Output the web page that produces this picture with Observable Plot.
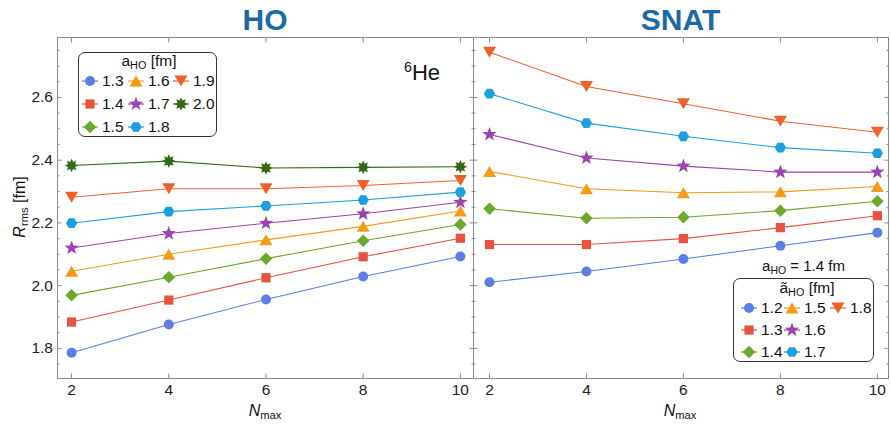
<!DOCTYPE html>
<html><head><meta charset="utf-8">
<script src="https://cdn.jsdelivr.net/npm/d3@7"></script>
<script src="https://cdn.jsdelivr.net/npm/@observablehq/plot@0.6"></script>
<style>
body{margin:0;background:#fff;font-family:"Liberation Sans",Arial,sans-serif;}
#wrap{position:relative;width:891px;height:424px;overflow:hidden;background:#fff;}
.pane{position:absolute;top:0;}
.t{position:absolute;white-space:nowrap;color:#111;line-height:1;}
.title{font-weight:bold;font-size:30px;color:#1b6aa5;text-align:center;}
sub{font-size:70%;vertical-align:-0.25em;line-height:0;}
sup{font-size:65%;vertical-align:0.55em;line-height:0;}
.leg{position:absolute;border:1px solid #333;border-radius:7px;background:#fff;box-sizing:border-box;font-size:15.5px;color:#111;}
.leg .lt{text-align:center;}
.leg .g{display:grid;grid-auto-flow:column;}
.le{display:flex;align-items:center;}
.le svg{display:block;overflow:visible;}
.le span{margin-left:4px;}
</style></head><body><div id="wrap"></div>
<script>
// ---------------- data ----------------
const nmax = [2, 4, 6, 8, 10];
const yMajor = [1.8, 2.0, 2.2, 2.4, 2.6];
const yMinor = [1.75, 1.85, 1.9, 1.95, 2.05, 2.1, 2.15, 2.25, 2.3, 2.35, 2.45, 2.5, 2.55, 2.65, 2.7, 2.75];

const hoLabels = ["1.3", "1.4", "1.5", "1.6", "1.7", "1.8", "1.9", "2.0"];
const ho_1_3 = [1.786, 1.876, 1.956, 2.029, 2.093];
const ho_1_4 = [1.884, 1.954, 2.025, 2.092, 2.151];
const ho_1_5 = [1.969, 2.027, 2.086, 2.143, 2.195];
const ho_1_6 = [2.046, 2.100, 2.146, 2.189, 2.238];
const ho_1_7 = [2.120, 2.166, 2.199, 2.229, 2.266];
const ho_1_8 = [2.199, 2.236, 2.254, 2.273, 2.298];
const ho_1_9 = [2.282, 2.309, 2.309, 2.319, 2.335];
const ho_2_0 = [2.383, 2.397, 2.375, 2.377, 2.379];

const snatLabels = ["1.2", "1.3", "1.4", "1.5", "1.6", "1.7", "1.8"];
const snat_1_2 = [2.011, 2.045, 2.085, 2.127, 2.169];
const snat_1_3 = [2.131, 2.131, 2.150, 2.185, 2.223];
const snat_1_4 = [2.245, 2.215, 2.218, 2.239, 2.269];
const snat_1_5 = [2.364, 2.309, 2.296, 2.299, 2.316];
const snat_1_6 = [2.482, 2.407, 2.381, 2.362, 2.362];
const snat_1_7 = [2.612, 2.518, 2.476, 2.440, 2.422];
const snat_1_8 = [2.744, 2.635, 2.580, 2.524, 2.489];

const hoSeries = [ho_1_3, ho_1_4, ho_1_5, ho_1_6, ho_1_7, ho_1_8, ho_1_9, ho_2_0];
const snatSeries = [snat_1_2, snat_1_3, snat_1_4, snat_1_5, snat_1_6, snat_1_7, snat_1_8];

// ---------------- styles ----------------
const colors = ["#5b7fe5", "#e8523f", "#6aa92b", "#f59a17", "#9b45b2", "#19a0dd", "#ef612c", "#356b14"];
const frameColor = "#8a8a8a";

function poly(c, pts) { c.moveTo(pts[0][0], pts[0][1]); for (let i = 1; i < pts.length; i++) c.lineTo(pts[i][0], pts[i][1]); c.closePath(); }
const Rr = s => Math.sqrt(s / Math.PI);
function starSym(n, ko, ki, rot = -Math.PI / 2) {
  return { draw(c, s) { const r = Rr(s); const pts = []; for (let i = 0; i < 2 * n; i++) { const a = rot + i * Math.PI / n; const rr = (i % 2 ? ki : ko) * r; pts.push([rr * Math.cos(a), rr * Math.sin(a)]); } poly(c, pts); } };
}
const symbols = [
  { draw(c, s) { const r = Rr(s); c.moveTo(r, 0); c.arc(0, 0, r, 0, 2 * Math.PI); } },
  { draw(c, s) { const h = Rr(s) * 0.92; poly(c, [[-h, -h], [h, -h], [h, h], [-h, h]]); } },
  { draw(c, s) { const h = Rr(s) * 1.25; poly(c, [[0, -h], [h, 0], [0, h], [-h, 0]]); } },
  { draw(c, s) { const r = Rr(s); const w = r * 1.3, hh = r * 1.1; poly(c, [[0, -hh], [w, hh], [-w, hh]]); } },
  starSym(5, 1.5, 0.62),
  { draw(c, s) { const r = Rr(s) * 1.12; const pts = []; for (let i = 0; i < 6; i++) { const a = i * Math.PI / 3; pts.push([r * Math.cos(a), r * Math.sin(a)]); } poly(c, pts); } },
  { draw(c, s) { const r = Rr(s); const w = r * 1.3, hh = r * 1.1; poly(c, [[0, hh], [w, -hh], [-w, -hh]]); } },
  starSym(8, 1.35, 0.78)
];

// ---------------- panels ----------------
const yDomain = [1.704, 2.791];
function panel(series, xDomain, width, mL, mR, showYLabels) {
  const marks = [
    Plot.axisY(yMajor, { anchor: "left", tickSize: -4.5, tickPadding: 9, tickFormat: showYLabels ? d3.format(".1f") : () => "", label: null, stroke: frameColor, fill: "#222" }),
    Plot.axisY(yMinor, { anchor: "left", tickSize: -2.5, tickFormat: () => "", label: null, stroke: frameColor }),
    Plot.axisY(yMajor, { anchor: "right", tickSize: -4.5, tickFormat: () => "", label: null, stroke: frameColor }),
    Plot.axisY(yMinor, { anchor: "right", tickSize: -2.5, tickFormat: () => "", label: null, stroke: frameColor }),
    Plot.axisX(nmax, { anchor: "bottom", tickSize: -4.5, tickPadding: 10, tickFormat: d3.format("d"), label: null, stroke: frameColor, fill: "#222" }),
    Plot.axisX(nmax, { anchor: "top", tickSize: -4.5, tickFormat: () => "", label: null, stroke: frameColor }),
    Plot.frame({ stroke: frameColor })
  ];
  series.forEach((vals, i) => {
    const rows = nmax.map((n, j) => ({ n, r: vals[j] }));
    marks.push(Plot.line(rows, { x: "n", y: "r", stroke: colors[i], strokeWidth: 1.1 }));
    marks.push(Plot.dot(rows, { x: "n", y: "r", fill: colors[i], symbol: symbols[i], r: 5 }));
  });
  return Plot.plot({
    width, height: 424,
    marginLeft: mL, marginRight: mR, marginTop: 37, marginBottom: 46,
    x: { domain: xDomain },
    y: { domain: yDomain },
    style: { background: "transparent", fontFamily: "'Liberation Sans', Arial, sans-serif", fontSize: "15.5px", color: "#222", overflow: "visible" },
    marks
  });
}

const wrap = document.getElementById("wrap");
function place(el, left) { const d = document.createElement("div"); d.className = "pane"; d.style.left = left + "px"; d.appendChild(el); wrap.appendChild(d); }
place(panel(hoSeries, [1.71, 10.27], 474, 57, 1, true), 0);
place(panel(snatSeries, [1.67, 10.23], 419, 1, 3, false), 472);

function addText(html, css, cls = "t") { const d = document.createElement("div"); d.className = cls; d.innerHTML = html; Object.assign(d.style, css); wrap.appendChild(d); return d; }

addText("HO", { left: "57px", width: "416px", top: "5px" }, "t title");
addText("SNAT", { left: "473px", width: "415px", top: "5px" }, "t title");
addText("<sup>6</sup>He", { left: "404px", top: "62px", fontSize: "22px" });
addText("<i>R</i><sub>rms</sub> [fm]", { left: "20px", top: "207px", fontSize: "16px", transform: "translate(-50%,-50%) rotate(-90deg)" });
addText("<i>N</i><sub>max</sub>", { left: "265px", top: "403px", fontSize: "16px", transform: "translateX(-50%)" });
addText("<i>N</i><sub>max</sub>", { left: "680px", top: "403px", fontSize: "16px", transform: "translateX(-50%)" });

// ---------------- legends ----------------
function entry(i, label) {
  const p = d3.path(); symbols[i].draw(p, Math.PI * 25);
  return `<div class="le"><svg width="16" height="18" viewBox="-8 -9 16 18"><line x1="-8" x2="8" y1="0" y2="0" stroke="${colors[i]}" stroke-width="1.2"/><path d="${p}" fill="${colors[i]}"/></svg><span>${label}</span></div>`;
}
function legend(titleHtml, labels, css, cols, titleH, rowH) {
  const d = document.createElement("div"); d.className = "leg"; Object.assign(d.style, css);
  d.innerHTML = `<div class="lt" style="line-height:${titleH}px">${titleHtml}</div><div class="g" style="grid-template-rows:repeat(3,${rowH}px);grid-template-columns:${cols}">${labels.map((l, i) => entry(i, l)).join("")}</div>`;
  wrap.appendChild(d);
}
legend("a<sub>HO</sub> [fm]", hoLabels, { left: "78px", top: "52px", width: "139px", height: "85px", paddingLeft: "3px" }, "46px 45px auto", 16, 23);
addText("a<sub>HO</sub> = 1.4 fm", { left: "733px", width: "141px", top: "258px", fontSize: "15px", textAlign: "center" });
legend("ã<sub>HO</sub> [fm]", snatLabels, { left: "733px", top: "278px", width: "141px", height: "84px", paddingLeft: "7px" }, "43px 46px auto", 18, 22);
</script></body></html>
